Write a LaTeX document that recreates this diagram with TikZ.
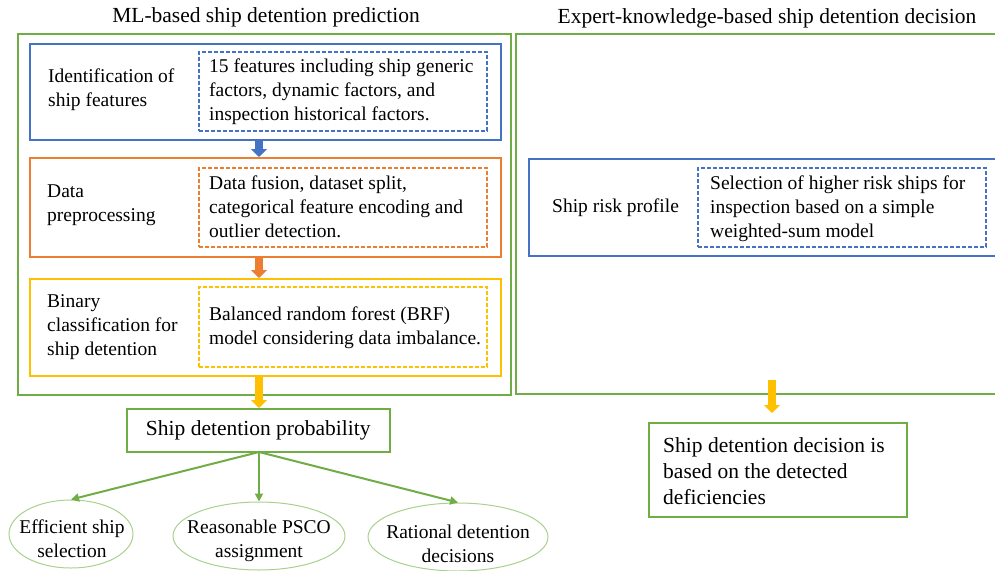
\documentclass[tikz,border=0pt]{standalone}
\usepackage{fontspec}
\setmainfont{Liberation Serif}
\usetikzlibrary{arrows.meta,shapes.geometric}
\definecolor{cgreen}{HTML}{70AD47}
\definecolor{cblue}{HTML}{4472C4}
\definecolor{corange}{HTML}{ED7D31}
\definecolor{cyellow}{HTML}{FFC000}
\definecolor{clgreen}{HTML}{A9D18E}
\begin{document}
\begin{tikzpicture}[x=1pt,y=-1pt,
  body/.style={font=\fontsize{19.5}{24}\selectfont},
  big/.style={font=\fontsize{21.5}{26}\selectfont},
  frame/.style={draw, line width=1.5pt, anchor=north west, inner sep=0pt},
  dbox/.style={draw, dash pattern=on 4pt off 2pt, line width=1.5pt, anchor=north west, inner sep=0pt, minimum width=288pt},
  lbl/.style={anchor=west, inner sep=0pt, body, align=left},
  barrow/.style={line width=8pt, -{Triangle[width=16pt,length=8pt]}},
  garrow/.style={draw=cgreen, line width=2pt, -{Triangle[width=8pt,length=8pt]}},
  ell/.style={ellipse, draw=clgreen, line width=1pt, inner sep=0pt},
  etext/.style={body, align=center, inner sep=0pt}
]
\useasboundingbox (0,0) rectangle (995,570);
\clip (0,0) rectangle (995,570);

% titles
\node[big, inner sep=0pt] (t1) at (266,17) {ML-based ship detention prediction};
\node[big, inner sep=0pt] (t2) at (767,18) {Expert-knowledge-based ship detention decision};

% outer frames
\node[frame, draw=cgreen, minimum width=493pt, minimum height=361pt] (ml) at (17,33) {};
\node[frame, draw=cgreen, minimum width=500pt, minimum height=360pt] (ek) at (515,33) {};

% left inner boxes
\node[frame, draw=cblue, minimum width=471pt, minimum height=96pt] (b1) at (29,43) {};
\node[dbox, draw=cblue, minimum height=79pt] (d1) at (198,51) {};
\node[lbl] (d1t) at (209,92) {15 features including ship generic\\factors, dynamic factors, and\\inspection historical factors.};
\node[lbl] (l1) at (48,90) {Identification of\\ship features};

\node[frame, draw=corange, minimum width=471pt, minimum height=99pt] (b2) at (29,157) {};
\node[dbox, draw=corange, minimum height=79pt] (d2) at (198,167) {};
\node[lbl] (d2t) at (209,207) {Data fusion, dataset split,\\categorical feature encoding and\\outlier detection.};
\node[lbl] (l2) at (47,205) {Data\\preprocessing};

\node[frame, draw=cyellow, minimum width=471pt, minimum height=97pt] (b3) at (29,278) {};
\node[dbox, draw=cyellow, minimum height=80pt] (d3) at (198,286) {};
\node[lbl] (d3t) at (209,328) {Balanced random forest (BRF)\\model considering data imbalance.};
\node[lbl] (l3) at (47,327) {Binary\\classification for\\ship detention};

% right inner box
\node[frame, draw=cblue, minimum width=480pt, minimum height=97pt] (b4) at (528,158) {};
\node[dbox, draw=cblue, minimum height=79pt] (d4) at (697,167) {};
\node[lbl] (d4t) at (710,209) {Selection of higher risk ships for\\inspection based on a simple\\weighted-sum model};
\node[lbl] (l4) at (552,208) {Ship risk profile};

% result boxes
\node[frame, draw=cgreen, minimum width=263pt, minimum height=43pt, big] (prob) at (126,408) {};
\node[big, inner sep=0pt] (probt) at (prob.center) {Ship detention probability};
\node[frame, draw=cgreen, minimum width=258pt, minimum height=94pt] (dec) at (648,422) {};
\node[big, align=left, inner sep=0pt, anchor=west] (dect) at (663,471) {Ship detention decision is\\based on the detected\\deficiencies};

% ellipses
\node[ell, minimum width=124pt, minimum height=68pt] (e1) at (71,534) {};
\node[etext] (e1t) at (72,539) {Efficient ship\\selection};
\node[ell, minimum width=172pt, minimum height=68pt] (e2) at (259,536) {};
\node[etext] (e2t) at (259,541) {Reasonable PSCO\\assignment};
\node[ell, minimum width=180pt, minimum height=68pt] (e3) at (458,537) {};
\node[etext] (e3t) at (458,544) {Rational detention\\decisions};

% block arrows
\coordinate (ax) at (259,0);
\draw[barrow, cblue] (ax |- b1.south) -- (ax |- b2.north);
\draw[barrow, corange] (ax |- b2.south) -- (ax |- b3.north);
\draw[barrow, cyellow] (ax |- b3.south) -- (ax |- prob.north);
\coordinate (rs) at (772,380);
\coordinate (re) at (772,413);
\draw[barrow, cyellow] (rs) -- (re);

% green arrows
\coordinate (ps) at (259,452);
\draw[garrow] (ps) -- (e1.north);
\draw[garrow] (ps) -- (e2.north);
\draw[garrow] (ps) -- (e3.north);
\end{tikzpicture}
\end{document}
